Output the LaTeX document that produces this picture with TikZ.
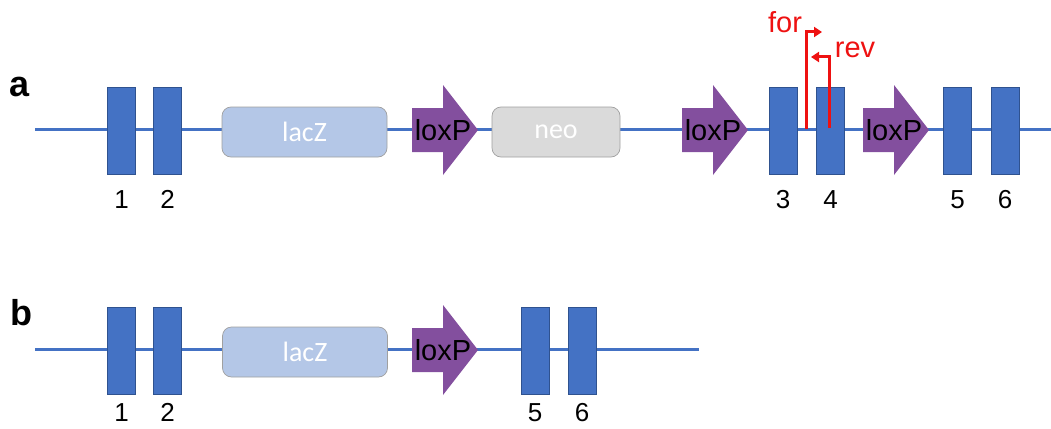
\documentclass[tikz,border=0pt]{standalone}
\usepackage{fontspec}
\setmainfont{Liberation Sans}
\newfontfamily\boxfont{Carlito}
\usetikzlibrary{arrows.meta}
\definecolor{exonblue}{HTML}{4472C4}
\definecolor{exonedge}{HTML}{2F528F}
\definecolor{lacfill}{HTML}{B4C7E7}
\definecolor{neofill}{HTML}{DADADA}
\definecolor{boxedge}{HTML}{A0A0A0}
\definecolor{loxpurple}{HTML}{834F9E}
\definecolor{primred}{HTML}{EE1111}
\newcommand\loxparrow[3]{%
  \fill[loxpurple] (#1,#2) ++(0,-22) -- ++(31,0) -- ++(0,-23) -- ++(35,45) -- ++(-35,45) -- ++(0,-23) -- ++(-31,0) -- cycle;
  \node[loxtext] (#3) at (#1+31,#2) {loxP};}
\begin{document}
\begin{tikzpicture}[x=1pt,y=-1pt,
  exon/.style={rectangle, fill=exonblue, draw=exonedge, line width=0.6pt, minimum width=28pt, minimum height=87pt, inner sep=0pt},
  num/.style={font=\fontsize{26}{26}\selectfont, anchor=base, inner sep=0pt},
  gene/.style={rectangle, rounded corners=9pt, draw=boxedge, line width=0.7pt, minimum height=50pt, inner sep=0pt, font=\boxfont\fontsize{28}{28}\selectfont, text=white},
  dna/.style={exonblue, line width=3pt},
  loxtext/.style={font=\fontsize{29}{29}\selectfont, text=black, inner sep=0pt},
  primer/.style={primred, line width=3pt, -{Triangle[length=8pt,width=10pt]}},
  primerlabel/.style={font=\fontsize{29}{29}\selectfont, text=primred, anchor=base, inner sep=0pt},
  panel/.style={font=\bfseries\fontsize{36}{36}\selectfont, anchor=base, inner sep=0pt}]
\useasboundingbox (0,0) rectangle (1051,428);
% ---------- row a ----------
\coordinate (aL) at (35,129);
\coordinate (aR) at (1051,129);
\draw[dna] (aL) -- (aR);
\node[panel] (pa) at (20,96) {a};
\node[exon] (a1) at (121.5,130.5) {};
\node[exon] (a2) at (167.5,130.5) {};
\node[gene, fill=lacfill, minimum width=165pt] (alacz) at (304.5,132) {lacZ};
\loxparrow{412}{130}{alox1}
\node[gene, fill=neofill, minimum width=128pt] (aneo) at (556,132) {neo};
\loxparrow{682}{130}{alox2}
\node[exon] (a3) at (783,130.5) {};
\node[exon] (a4) at (830.5,130.5) {};
\loxparrow{863}{130}{alox3}
\node[exon] (a5) at (957.5,130.5) {};
\node[exon] (a6) at (1005,130.5) {};
\node[num] (la1) at (121.5,208) {1};
\node[num] (la2) at (167.5,208) {2};
\node[num] (la3) at (783,208) {3};
\node[num] (la4) at (830.5,208) {4};
\node[num] (la5) at (957.5,208) {5};
\node[num] (la6) at (1005,208) {6};
% primers
\coordinate (forbase) at (806,129);
\coordinate (fortip) at (822,32);
\draw[primer] (forbase) |- (fortip);
\node[primerlabel] (forlab) at (785,33) {for};
\coordinate (revbase) at (829,128);
\coordinate (revtip) at (811,57);
\draw[primer] (revbase) |- (revtip);
\node[primerlabel] (revlab) at (855,57) {rev};
% ---------- row b ----------
\coordinate (bL) at (35,349);
\coordinate (bR) at (699,349);
\draw[dna] (bL) -- (bR);
\node[panel] (pb) at (21,325) {b};
\node[exon] (b1) at (121.5,350.5) {};
\node[exon] (b2) at (167.5,350.5) {};
\node[gene, fill=lacfill, minimum width=165pt] (blacz) at (305,352) {lacZ};
\loxparrow{412}{350}{blox1}
\node[exon] (b5) at (535,350.5) {};
\node[exon] (b6) at (582,350.5) {};
\node[num] (lb1) at (121.5,421) {1};
\node[num] (lb2) at (167.5,421) {2};
\node[num] (lb5) at (535,421) {5};
\node[num] (lb6) at (582,421) {6};
\end{tikzpicture}
\end{document}
